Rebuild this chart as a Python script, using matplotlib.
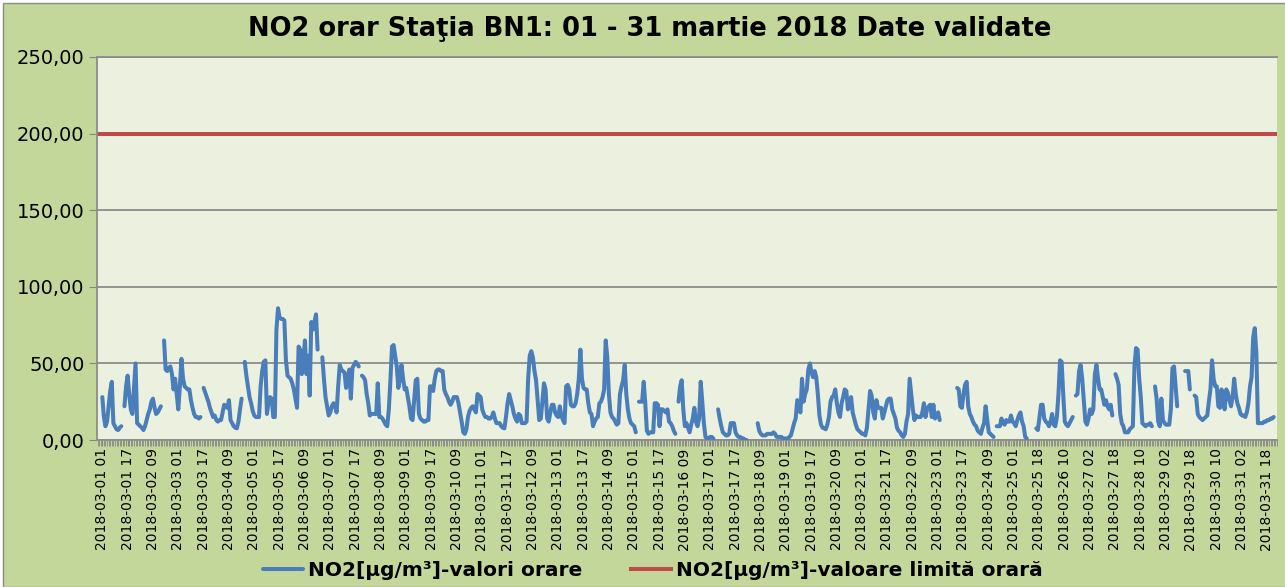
import numpy as np
import matplotlib
matplotlib.use("Agg")
import matplotlib.pyplot as plt
from matplotlib.patches import Rectangle
from matplotlib.ticker import MultipleLocator

plt.rcParams["font.family"] = "DejaVu Sans"

# hourly NO2 (ug/m3), one row per day; 25 March has 23 hours (DST), None = missing
no2_hourly = [
    [28, 15, 9, 12, 22, 32, 38, 11, 9, 7, 6.5, 8, 9, None, 22, 35, 42, 30, 20, 17, 33, 50, 11, 10],
    [9, 8, 6.5, 9, 13, 17, 20, 25, 27, 21, 17, 18, 20, 22, None, 65, 46, 45, 47, 48, 43, 33, 40, 30],
    [20, 35, 53, 40, 35, 34, 33, 33, 26, 21, 17, 15, 15, 14, 15, None, 34, 31, 28, 25, 21, 18, 15, 16],
    [13, 12, 13, 13, 18, 23, 22, 21, 26, 13, 11, 9, 8, 7.6, 12, 20, 27, None, 51, 42, 35, 28, 24, 19],
    [16, 15, 15, 15, 35, 45, 51, 52, 17, 25, 28, 27, 15, 15, 72, 86, 80, 79, 79, 78, 52, 42, 41, 40],
    [37, 33, 27, 21, 61, 59, 43, 52, 65, 43, 55, 29, 77, 72, 77, 82, 59, None, None, 54, 40, 28, 22, 16],
    [18, 22, 24, 22, 18, 35, 49, 46, 45, 44, 34, 40, 46, 27, 47, 49, 51, 50, 48, None, 42, 41, 39, 30],
    [24, 16, 17, 17, 17, 17, 37, 15, 15, 14, 12, 10, 9, 20, 39, 61, 62, 55, 48, 34, 40, 49, 40, 33],
    [34, 28, 22, 14, 13, 26, 39, 40, 17, 14, 13, 12, 12, 13, 13, 35, 35, 32, 40, 45, 46, 46, 45, 45],
    [33, 30, 28, 25, 23, 25, 28, 28, 28, 24, 18, 12, 5, 4, 7, 15, 19, 21, 22, 20, 18, 30, 29, 28],
    [20, 17, 15, 15, 14, 14, 15, 18, 14, 11, 11, 11, 9, 8, 7.6, 15, 24, 30, 26, 22, 17, 14, 12, 17],
    [16, 11, 11, 11, 12, 40, 55, 58, 54, 45, 39, 26, 13, 14, 25, 37, 33, 14, 12, 18, 23, 23, 18, 16],
    [15, 22, 16, 13, 11, 35, 36, 33, 23, 22, 22, 24, 30, 40, 59, 40, 34, 33, 33, 24, 18, 17, 9, 12],
    [14, 15, 24, 25, 28, 33, 65, 54, 30, 18, 15, 14, 12, 10, 11, 30, 35, 39, 49, 30, 20, 14, 11, 10],
    [9, 5, None, 25, 25, 25, 38, 24, 6, 4, 5, 5, 5, 24, 24, 23, 9, 20, 20, 19, 18, 20, 12, 11],
    [9, 6, 4, None, 25, 35, 39, 20, 9, 11, 8, 5, 10, 14, 21, 12, 9, 14, 38, 25, 11, 2, 1, 1],
    [2, 2, 1, None, None, 20, 14, 9, 5, 4, 3, 3, 4, 11, 11, 11, 5, 3, 2, 2, 1, 1, 0, 0],
    [None, None, None, None, None, None, 11, 6, 4, 3, 3, 3, 4, 4, 4, 4, 5, 4, 2, 2, 2, 2, 1, 1],
    [1, 1, 2, 3, 7, 11, 14, 26, 22, 18, 40, 25, 30, 33, 46, 50, 44, 41, 45, 41, 30, 16, 10, 8],
    [7.6, 7, 10, 15, 25, 28, 29, 33, 24, 18, 15, 24, 28, 33, 32, 20, 22, 28, 18, 14, 10, 7, 6, 5],
    [4, 4, 3, 8, 20, 32, 29, 18, 14, 26, 21, 21, 21, 14, 18, 22, 26, 27, 27, 20, 17, 14, 8, 6],
    [5, 3, 2, 4, 12, 17, 40, 30, 20, 13, 16, 15, 15, 15, 18, 24, 15, 20, 22, 23, 15, 23, 14, 16],
    [18, 13, None, None, None, None, None, None, None, None, None, None, 34, 33, 22, 21, 30, 36, 38, 22, 17, 15, 12, 10],
    [9, 6, 5, 4, 8, 11, 22, 13, 5, 4, 3, 2, None, 9, 9, 9, 14, 11, 10, 13, 12, 12, 16, 12],
    [11, 9, 13, 16, 18, 12, 9, 2, 1, None, None, None, None, None, 7.6, 6.5, 15, 23, 23, 14, 12, 11, 9],
    [12, 17, 10, 9, 15, 30, 52, 51, 30, 12, 10, 9, 11, 13, 15, None, 29, 30, 45, 49, 40, 26, 12, 10],
    [14, 20, 17, 20, 43, 49, 40, 33, 33, 28, 23, 26, 22, 20, 23, 16, None, 43, 40, 36, 17, 11, 9, 5],
    [5, 5, 7, 8, 9, 48, 60, 59, 40, 28, 11, 10, 9, 10, 10, 11, 9, None, 35, 27, 12, 9, 27, 13],
    [11, 10, 10, 10, 20, 47, 48, 35, 22, None, None, None, None, 45, 45, 45, 33, None, None, 29, 28, 17, 15, 14],
    [13, 14, 15, 16, 25, 33, 52, 40, 35, 35, 22, 21, 33, 25, 20, 33, 31, 26, 22, 28, 40, 30, 24, 21],
    [17, 16, 16, 15, 18, 24, 35, 41, 67, 73, 57, 11, 11, 11, 11, 12, 12, 13, 13, 14, 14, 15, None, None],
]
limit_value = 200.0

y_ticks = [0, 50, 100, 150, 200, 250]
y_tick_labels = ["0,00", "50,00", "100,00", "150,00", "200,00", "250,00"]
x_tick_labels = [
    "2018-03-01 01", "2018-03-01 17", "2018-03-02 09", "2018-03-03 01", "2018-03-03 17",
    "2018-03-04 09", "2018-03-05 01", "2018-03-05 17", "2018-03-06 09", "2018-03-07 01",
    "2018-03-07 17", "2018-03-08 09", "2018-03-09 01", "2018-03-09 17", "2018-03-10 09",
    "2018-03-11 01", "2018-03-11 17", "2018-03-12 09", "2018-03-13 01", "2018-03-13 17",
    "2018-03-14 09", "2018-03-15 01", "2018-03-15 17", "2018-03-16 09", "2018-03-17 01",
    "2018-03-17 17", "2018-03-18 09", "2018-03-19 01", "2018-03-19 17", "2018-03-20 09",
    "2018-03-21 01", "2018-03-21 17", "2018-03-22 09", "2018-03-23 01", "2018-03-23 17",
    "2018-03-24 09", "2018-03-25 01", "2018-03-25 18", "2018-03-26 10", "2018-03-27 02",
    "2018-03-27 18", "2018-03-28 10", "2018-03-29 02", "2018-03-29 18", "2018-03-30 10",
    "2018-03-31 02", "2018-03-31 18",
]

title = "NO2 orar Staţia BN1: 01 - 31 martie 2018 Date validate"
label_values = "NO2[µg/m³]-valori orare"
label_limit = "NO2[µg/m³]-valoare limită orară"

values = np.array([v for day in no2_hourly for v in day], dtype=float)
hours = np.arange(len(values))

W, H = 1285, 587
fig = plt.figure(figsize=(W / 100, H / 100), dpi=100)
fig.patch.set_facecolor("white")
fig.add_artist(Rectangle((3 / W, 0), 1, 1 - 3 / H, transform=fig.transFigure,
                         facecolor="#C4D79B", edgecolor="#8C8C8C", lw=1, zorder=-5))

ax = fig.add_axes([97 / W, 147 / H, 1180 / W, 383 / H])
ax.set_facecolor("#EBF1DE")

ax.plot(hours, values, color="#4A7EBB", lw=2.9, solid_joinstyle="round",
        solid_capstyle="round", label=label_values, zorder=3)
ax.axhline(limit_value, color="#BE4B48", lw=2.9, label=label_limit, zorder=2)

ax.set_xlim(-3.35, 742.05)
ax.set_ylim(0, 250)
ax.set_yticks(y_ticks, labels=y_tick_labels, fontsize=14)
ax.set_xticks(hours[::16][:len(x_tick_labels)], labels=x_tick_labels, rotation=90, fontsize=10)
ax.xaxis.set_minor_locator(MultipleLocator(1))
ax.tick_params(axis="x", which="both", length=4, color="#868686", pad=2)
ax.tick_params(axis="y", length=6, color="#868686", pad=3)
ax.yaxis.grid(True, color="#8C8C8C", lw=1.3)
ax.set_axisbelow(True)

for side in ["left", "bottom", "top"]:
    ax.spines[side].set_color("#8C8C8C")
    ax.spines[side].set_linewidth(1.3)
ax.spines["right"].set_visible(False)

fig.text(650 / W, 1 - 29 / H, title, ha="center", va="center", fontsize=18.5, fontweight="bold")

fig.legend(loc="center", bbox_to_anchor=(653 / W, 1 - 571 / H), ncol=2, frameon=False,
           prop={"weight": "bold", "size": 14.5}, handlelength=2.0, columnspacing=2.4,
           handletextpad=0.25)

fig.savefig("out.png", dpi=100)
